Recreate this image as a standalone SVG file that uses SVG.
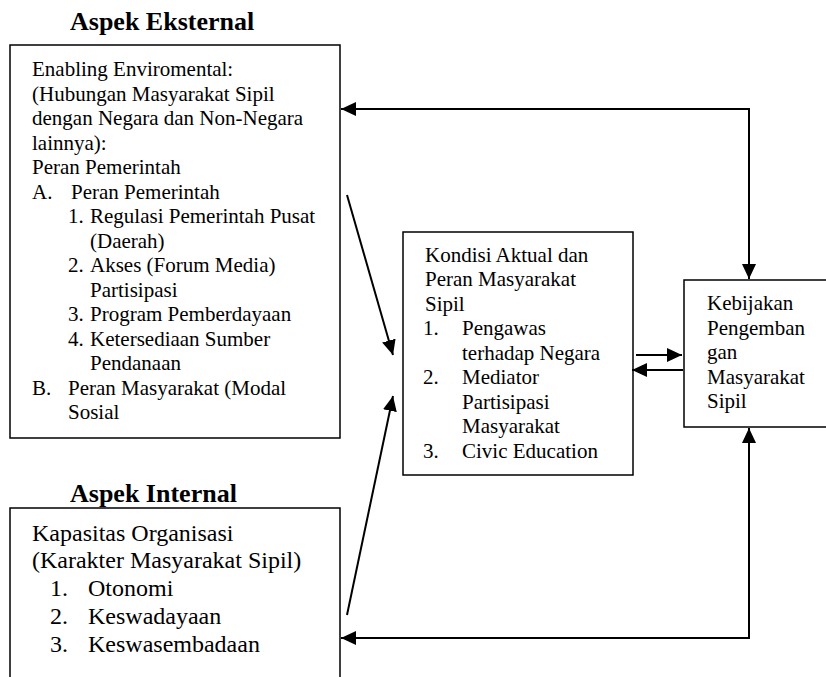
<svg xmlns="http://www.w3.org/2000/svg" width="826" height="677" viewBox="0 0 826 677">
  <style>
    .box { fill: #ffffff; stroke: #000000; stroke-width: 1.5; }
    .title { font-family: "Liberation Serif", "Times New Roman", serif; font-size: 26px; font-weight: bold; fill: #000000; }
    .t21 { font-family: "Liberation Serif", "Times New Roman", serif; font-size: 21px; fill: #000000; }
    .t24 { font-family: "Liberation Serif", "Times New Roman", serif; font-size: 24px; fill: #000000; }
    .conn { fill: none; stroke: #000000; stroke-width: 2; }
  </style>
  <defs>
    <marker id="arrow" markerUnits="userSpaceOnUse" markerWidth="15" markerHeight="14" refX="15" refY="7" orient="auto-start-reverse" viewBox="0 0 15 14">
      <path d="M0,0 L15,7 L0,14 z" fill="#000000"/>
    </marker>
  </defs>
  <rect width="826" height="677" fill="#ffffff"/>

  <!-- External aspect -->
  <g id="aspek-eksternal">
    <text class="title" x="70" y="30">Aspek Eksternal</text>
    <rect class="box" x="10" y="45" width="330" height="393"/>
    <text class="t21" x="32" y="76">Enabling Enviromental:</text>
    <text class="t21" x="32" y="100.5">(Hubungan Masyarakat Sipil</text>
    <text class="t21" x="32" y="125">dengan Negara dan Non-Negara</text>
    <text class="t21" x="32" y="149.5">lainnya):</text>
    <text class="t21" x="32" y="174">Peran Pemerintah</text>
    <text class="t21" x="32" y="198.5">A.</text>
    <text class="t21" x="71" y="198.5">Peran Pemerintah</text>
    <text class="t21" x="68" y="223">1.</text>
    <text class="t21" x="90" y="223">Regulasi Pemerintah Pusat</text>
    <text class="t21" x="90" y="247.5">(Daerah)</text>
    <text class="t21" x="68" y="272">2.</text>
    <text class="t21" x="90" y="272">Akses (Forum Media)</text>
    <text class="t21" x="90" y="296.5">Partisipasi</text>
    <text class="t21" x="68" y="321">3.</text>
    <text class="t21" x="90" y="321">Program Pemberdayaan</text>
    <text class="t21" x="68" y="345.5">4.</text>
    <text class="t21" x="90" y="345.5">Ketersediaan Sumber</text>
    <text class="t21" x="90" y="370">Pendanaan</text>
    <text class="t21" x="32" y="394.5">B.</text>
    <text class="t21" x="68" y="394.5">Peran Masyarakat (Modal</text>
    <text class="t21" x="68" y="419">Sosial</text>
  </g>

  <!-- Internal aspect -->
  <g id="aspek-internal">
    <text class="title" x="70" y="502">Aspek Internal</text>
    <rect class="box" x="10" y="508" width="330" height="180"/>
    <text class="t24" x="32" y="540.5">Kapasitas Organisasi</text>
    <text class="t24" x="32" y="568">(Karakter Masyarakat Sipil)</text>
    <text class="t24" x="50" y="596">1.</text>
    <text class="t24" x="88" y="596">Otonomi</text>
    <text class="t24" x="50" y="623.5">2.</text>
    <text class="t24" x="88" y="623.5">Keswadayaan</text>
    <text class="t24" x="50" y="651.5">3.</text>
    <text class="t24" x="88" y="651.5">Keswasembadaan</text>
  </g>

  <!-- Actual condition -->
  <g id="kondisi-aktual">
    <rect class="box" x="403" y="232" width="230" height="243"/>
    <text class="t21" x="425" y="261.5">Kondisi Aktual dan</text>
    <text class="t21" x="425" y="286">Peran Masyarakat</text>
    <text class="t21" x="425" y="310.5">Sipil</text>
    <text class="t21" x="423" y="335">1.</text>
    <text class="t21" x="462" y="335">Pengawas</text>
    <text class="t21" x="462" y="359.5">terhadap Negara</text>
    <text class="t21" x="423" y="384">2.</text>
    <text class="t21" x="462" y="384">Mediator</text>
    <text class="t21" x="462" y="408.5">Partisipasi</text>
    <text class="t21" x="462" y="433">Masyarakat</text>
    <text class="t21" x="423" y="457.5">3.</text>
    <text class="t21" x="462" y="457.5">Civic Education</text>
  </g>

  <!-- Policy -->
  <g id="kebijakan">
    <rect class="box" x="684" y="280" width="160" height="147"/>
    <text class="t21" x="707" y="310">Kebijakan</text>
    <text class="t21" x="707" y="334.5">Pengemban</text>
    <text class="t21" x="707" y="359">gan</text>
    <text class="t21" x="707" y="383.5">Masyarakat</text>
    <text class="t21" x="707" y="408">Sipil</text>
  </g>

  <!-- Connectors -->
  <g id="connectors">
    <path class="conn" d="M749,279 V109 H341" marker-start="url(#arrow)" marker-end="url(#arrow)"/>
    <path class="conn" d="M749,428 V638 H341" marker-start="url(#arrow)" marker-end="url(#arrow)"/>
    <path class="conn" d="M347,195 L393,355" marker-end="url(#arrow)"/>
    <path class="conn" d="M347,615 L393,396" marker-end="url(#arrow)"/>
    <path class="conn" d="M636,355 H682" marker-end="url(#arrow)"/>
    <path class="conn" d="M683,370 H632" marker-end="url(#arrow)"/>
  </g>
</svg>
